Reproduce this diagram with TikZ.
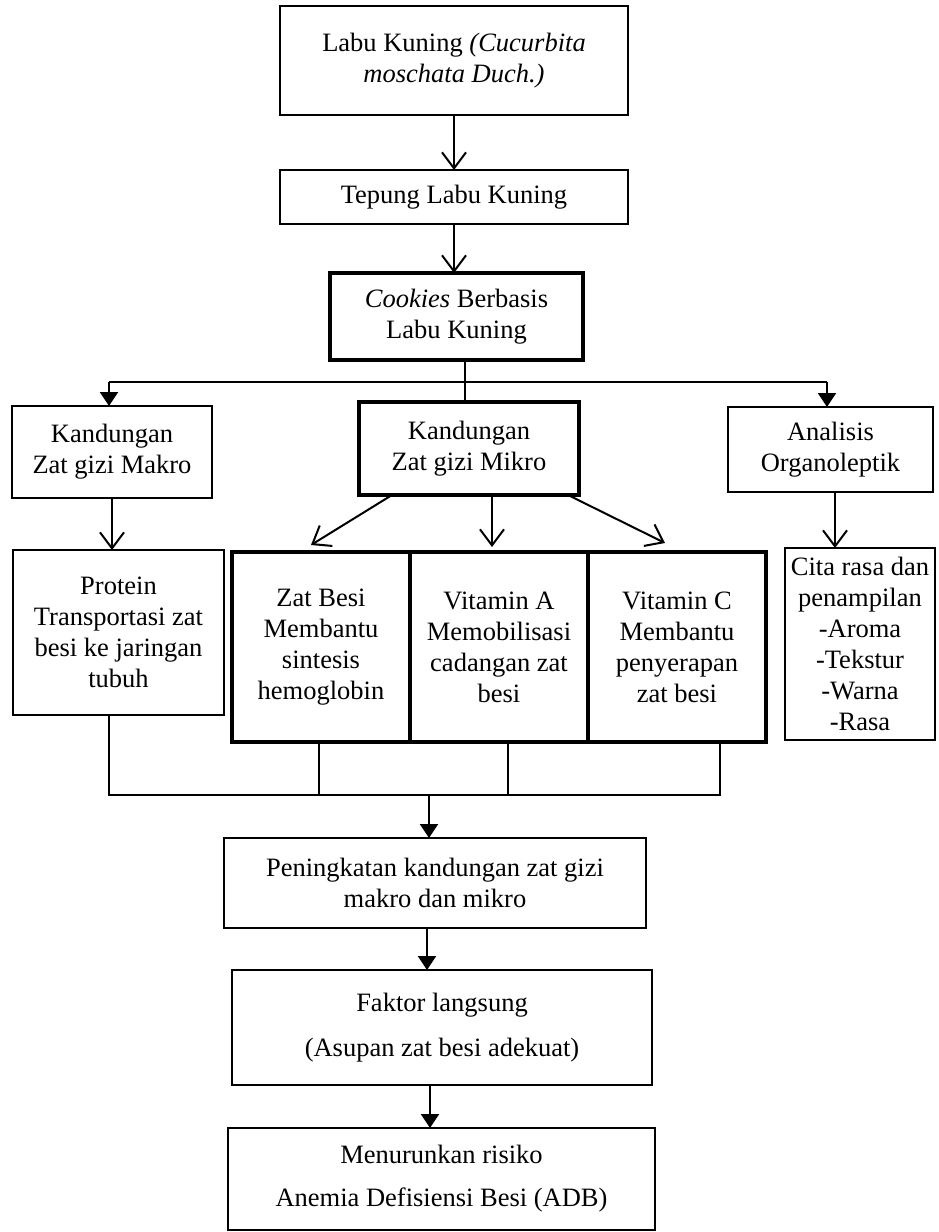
\documentclass[tikz,border=0pt]{standalone}
\usepackage{fontspec}
\setmainfont{Liberation Serif}
\usepackage{tikz}
\usetikzlibrary{arrows.meta, positioning, calc}

\begin{document}
\begin{tikzpicture}[
    x=1pt, y=1pt,
    font=\fontsize{26.5}{31}\selectfont,
    box/.style={rectangle, draw, line width=2.4pt, align=center, inner sep=3pt, outer sep=0pt},
    thinbox/.style={box, line width=1.6pt},
    boldbox/.style={box, line width=4.5pt},
    line/.style={line width=2pt},
    arr/.style={line width=2pt, -{Straight Barb[length=16pt, width=24pt]}},
    farr/.style={line width=2pt, -{Triangle[length=14pt, width=18pt]}},
]
\useasboundingbox (0,0) rectangle (938,-1232);

\node[box, minimum width=348pt, minimum height=109pt] (labu) at (454,-60.5) {Labu Kuning \textit{(Cucurbita}\\\textit{moschata Duch.)}};
\node[box, minimum width=348pt, minimum height=54pt, below=55pt of labu] (tepung) {Tepung Labu Kuning};
\node[boldbox, minimum width=253pt, minimum height=87pt, below=49pt of tepung, xshift=2.5pt] (cookies) {\textit{Cookies} Berbasis\\Labu Kuning};

\node[boldbox, minimum width=220pt, minimum height=93pt, below=42pt of cookies, xshift=12.5pt] (mikro) {Kandungan\\Zat gizi Mikro};
\node[box, minimum width=200pt, minimum height=92pt, left=147pt of mikro, yshift=-3.5pt] (makro) {Kandungan\\Zat gizi Makro};
\node[box, minimum width=205pt, minimum height=85pt, right=149pt of mikro, yshift=-1pt] (analisis) {Analisis\\Organoleptik};

\node[boldbox, minimum width=178pt, minimum height=190pt, below=57pt of mikro, xshift=30pt] (vita) {Vitamin A\\Memobilisasi\\cadangan zat\\besi};
\node[boldbox, minimum width=178pt, minimum height=190pt, left=0pt of vita] (besi) {Zat Besi\\Membantu\\sintesis\\hemoglobin};
\node[boldbox, minimum width=178pt, minimum height=190pt, right=0pt of vita] (vitc) {Vitamin C\\Membantu\\penyerapan\\zat besi};
\node[thinbox, minimum width=211pt, minimum height=165pt, below=52pt of makro, xshift=6.5pt] (protein) {Protein\\Transportasi zat\\besi ke jaringan\\tubuh};
\node[thinbox, minimum width=150pt, minimum height=192pt, inner sep=1pt, below=56pt of analisis, xshift=29.5pt] (rasa) {Cita rasa dan\\penampilan\\-Aroma\\-Tekstur\\-Warna\\-Rasa};

\node[box, minimum width=422pt, minimum height=90pt, below=96pt of vita, xshift=-64pt] (naik) {Peningkatan kandungan zat gizi\\makro dan mikro};
\node[box, minimum width=420pt, minimum height=115pt, below=42pt of naik, xshift=7pt] (faktor) {Faktor langsung\\[14pt](Asupan zat besi adekuat)};
\node[box, minimum width=427pt, minimum height=102pt, below=43pt of faktor, xshift=-0.5pt] (risiko) {Menurunkan risiko\\[12pt]Anemia Defisiensi Besi (ADB)};

\coordinate (hub) at ([xshift=8.5pt, yshift=-22pt]cookies.south);
\coordinate (join) at ([yshift=-53pt]vita.south);

\draw[arr] (labu.south) -- (tepung.north);
\draw[arr] (tepung.south) -- (tepung.south |- cookies.north);
\draw[line] (hub |- cookies.south) -- (hub |- mikro.north);
\draw[line] ([xshift=-3pt]makro.north |- hub) -- ([xshift=-3.5pt]analisis.north |- hub);
\draw[farr] ([xshift=-3pt]makro.north |- hub) -- ([xshift=-3pt]makro.north);
\draw[farr] ([xshift=-3.5pt]analisis.north |- hub) -- ([xshift=-3.5pt]analisis.north);

\draw[arr] (makro.south) -- (makro.south |- protein.north);
\draw[arr] ([xshift=33pt]mikro.south west) -- ([xshift=-10pt, yshift=7pt]besi.north);
\draw[arr] ([xshift=-7pt]vita.north |- mikro.south) -- ([xshift=-7pt, yshift=5pt]vita.north);
\draw[arr] ([xshift=-11pt]mikro.south east) -- ([xshift=-12pt, yshift=9pt]vitc.north);
\draw[arr] ([xshift=4.5pt]analisis.south) -- ([xshift=4.5pt]analisis.south |- rasa.north);

\draw[line] ([xshift=-9.5pt]protein.south) |- ([xshift=43pt]vitc.south |- join) -- ([xshift=43pt]vitc.south);
\draw[line] ([xshift=-2pt]besi.south) -- ([xshift=-2pt]besi.south |- join);
\draw[line] ([xshift=9pt]vita.south) -- ([xshift=9pt]vita.south |- join);
\draw[farr] ([xshift=-6pt]naik.north |- join) -- ([xshift=-6pt]naik.north);
\draw[farr] ([xshift=-8pt]naik.south) -- ([xshift=-8pt]naik.south |- faktor.north);
\draw[farr] ([xshift=-12pt]faktor.south) -- ([xshift=-12pt]faktor.south |- risiko.north);
\end{tikzpicture}
\end{document}
